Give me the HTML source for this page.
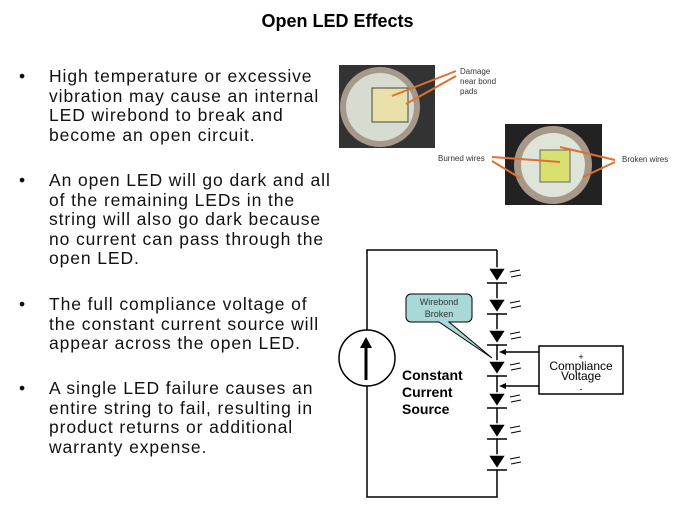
<!DOCTYPE html><html><head><style>
body{margin:0;width:675px;height:506px;background:#fff;position:relative;overflow:hidden;font-family:"Liberation Sans",sans-serif}
.t{position:absolute;top:11px;left:0;width:675px;text-align:center;font-weight:bold;font-size:18px}
.b{position:absolute;left:49px;width:300px;font-size:17.5px;letter-spacing:0.9px;line-height:19.6px;color:#111;white-space:nowrap}
.b:before{content:"•";position:absolute;left:-30px}
.l{position:absolute;font-size:8px;color:#333}
</style></head><body>
<div class="t">Open LED Effects</div>
<div class="b" style="top:67px">High temperature or excessive<br>vibration may cause an internal<br>LED wirebond to break and<br>become an open circuit.</div>
<div class="b" style="top:171px">An open LED will go dark and all<br>of the remaining LEDs in the<br>string will also go dark because<br>no current can pass through the<br>open LED.</div>
<div class="b" style="top:295px">The full compliance voltage of<br>the constant current source will<br>appear across the open LED.</div>
<div class="b" style="top:379px">A single LED failure causes an<br>entire string to fail, resulting in<br>product returns or additional<br>warranty expense.</div>
<svg width="675" height="506" style="position:absolute;left:0;top:0">
<rect x="339" y="65" width="96" height="83" fill="#333"/>
<circle cx="380" cy="107" r="40" fill="#a59a8a"/><circle cx="380" cy="107" r="34" fill="#d8dcd0"/>
<rect x="372" y="88" width="36" height="34" fill="#e8e0a8" stroke="#444"/>
<rect x="505" y="124" width="97" height="81" fill="#222"/>
<circle cx="553" cy="165" r="39" fill="#a89888"/><circle cx="553" cy="165" r="32" fill="#dfe4d8"/>
<rect x="540" y="150" width="30" height="32" fill="#d8e070" stroke="#666"/>
<g stroke="#e07030" stroke-width="2"><line x1="456" y1="71" x2="392" y2="96"/><line x1="456" y1="76" x2="406" y2="104"/>
<line x1="492" y1="157" x2="560" y2="162"/><line x1="492" y1="161" x2="520" y2="178"/>
<line x1="615" y1="160" x2="560" y2="147"/><line x1="615" y1="162" x2="583" y2="177"/></g>
<g stroke="#000" stroke-width="1.5" fill="none">
<polyline points="497,250 367,250 367,497 497,497 497,250"/>
<circle cx="367" cy="358" r="28" fill="#fff"/>
<line x1="366" y1="380" x2="366" y2="345" stroke-width="3"/>
<rect x="539" y="346" width="84" height="48" fill="#fff"/>
<line x1="539" y1="352" x2="502" y2="352"/><line x1="539" y1="386" x2="502" y2="386"/>
</g>
<polygon points="366,337 360,348 372,348" fill="#000"/>
<polygon points="499,352 506,349 506,355" fill="#000"/><polygon points="499,386 506,383 506,389" fill="#000"/>
<g id="leds">
<g transform="translate(497,275)"><polygon points="-9,-7 9,-7 0,7" fill="#000" stroke="#fff" stroke-width="1.5"/><line x1="-10" y1="8" x2="10" y2="8" stroke="#000" stroke-width="1.5"/><path d="M13,-3l10,-2M14,2l10,-2" stroke="#000"/></g>
</g>
<use href="#leds" y="31"/><use href="#leds" y="62"/><use href="#leds" y="93"/><use href="#leds" y="125"/><use href="#leds" y="156"/><use href="#leds" y="187"/>
<path d="M411,294h56a5,5 0 0 1 5,5v18a5,5 0 0 1-5,5h-18l43,36l-53,-36h-28a5,5 0 0 1-5,-5v-18a5,5 0 0 1 5,-5z" fill="#a8d8d8" stroke="#000"/>
<text x="439" y="305" font-size="9" text-anchor="middle" fill="#333">Wirebond</text>
<text x="439" y="317" font-size="9" text-anchor="middle" fill="#333">Broken</text>
<text x="581" y="360" font-size="9" text-anchor="middle">+</text>
<text x="581" y="370" font-size="12" text-anchor="middle">Compliance</text>
<text x="581" y="380" font-size="12" text-anchor="middle">Voltage</text>
<text x="581" y="392" font-size="9" text-anchor="middle">-</text>
<g font-size="14" font-weight="bold"><text x="402" y="380">Constant</text><text x="402" y="397">Current</text><text x="402" y="414">Source</text></g>
</svg>
<div class="l" style="left:460px;top:67px;line-height:10px">Damage<br>near bond<br>pads</div>
<div class="l" style="left:438px;top:154px">Burned wires</div>
<div class="l" style="left:622px;top:155px">Broken wires</div>
</body></html>
